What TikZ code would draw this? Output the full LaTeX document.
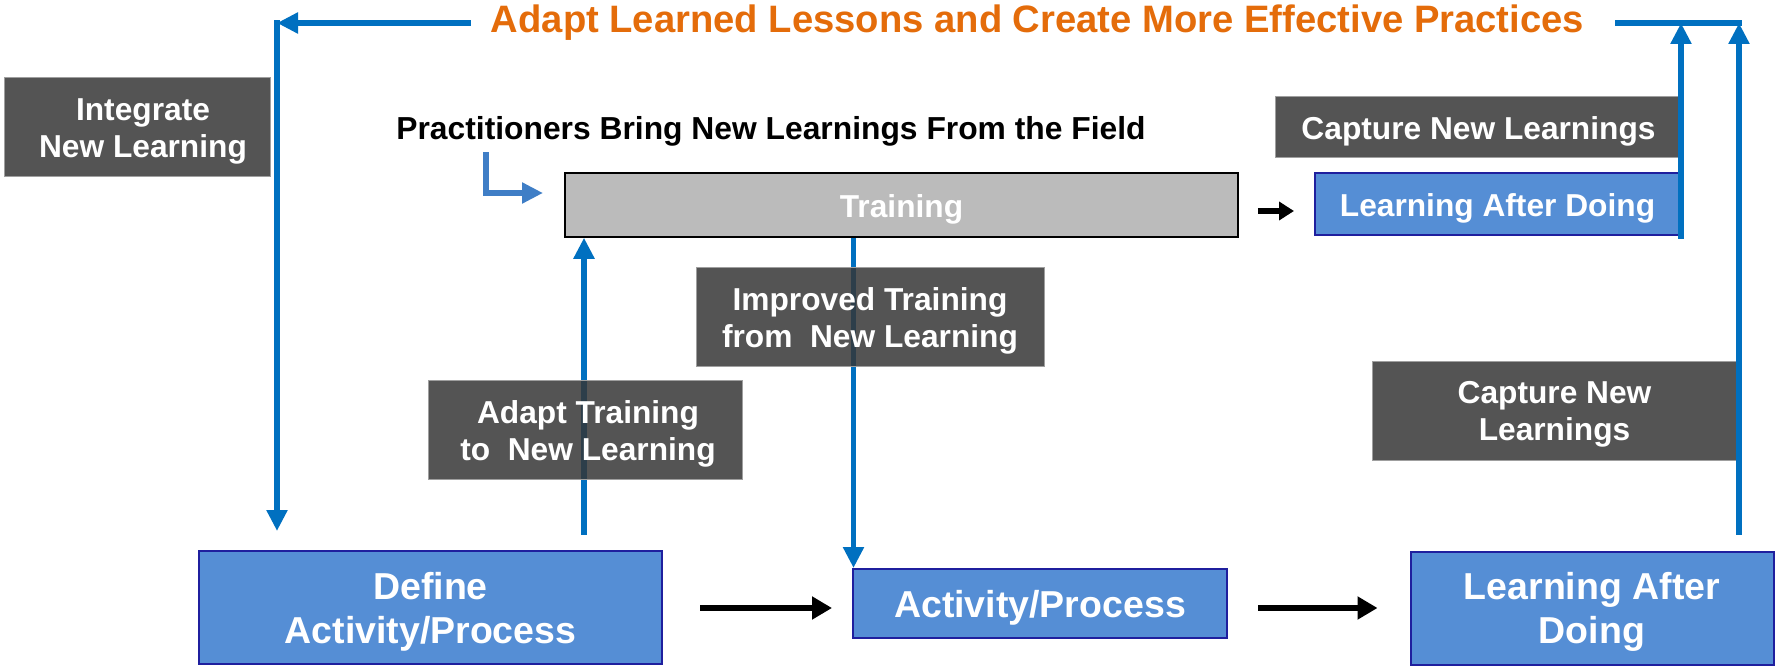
\documentclass[tikz,border=0pt]{standalone}
\usepackage{fontspec}
\setmainfont{Liberation Sans}
\usetikzlibrary{arrows.meta,backgrounds}
\definecolor{lblue}{HTML}{0070C0}
\definecolor{eblue}{HTML}{3F7EC6}
\definecolor{bfill}{HTML}{558ED5}
\definecolor{bdraw}{HTML}{1F1F9E}
\definecolor{dfill}{HTML}{363636}
\definecolor{ttl}{HTML}{E46C0A}
\definecolor{tfill}{HTML}{BBBBBB}
\begin{document}
\begin{tikzpicture}[x=1pt,y=-1pt,
  basebox/.style={rectangle, inner sep=0pt},
  dbox/.style={basebox, fill=dfill, fill opacity=0.85,
    draw=gray!75, draw opacity=1, line width=1pt},
  bbox/.style={basebox, fill=bfill, draw=bdraw, line width=2pt},
  tbox/.style={basebox, fill=tfill, draw=black, line width=1.5pt},
  smalltext/.style={align=center, text=white, inner sep=0pt, yshift=-4pt,
    font=\bfseries\fontsize{31.7}{37}\selectfont},
  bigtext/.style={smalltext, font=\bfseries\fontsize{37.5}{44}\selectfont},
  bline/.style={draw=lblue, line width=5.5pt, line cap=rect,
    -{Triangle[length=21pt,width=20pt]}},
  eline/.style={draw=eblue, line width=5.5pt, line cap=rect,
    -{Triangle[length=21pt,width=20pt]}},
  plainline/.style={draw=lblue, line width=5.5pt, line cap=rect},
  barrow/.style={draw=black, line width=6.5pt, -{Triangle[length=20pt,width=22pt]}},
  sbarrow/.style={draw=black, line width=6pt, -{Triangle[length=15pt,width=18pt]}}
]
\useasboundingbox (0,0) rectangle (1775,671);

% texts
\node[text=ttl, font=\bfseries\fontsize{38.2}{40}\selectfont, anchor=base, inner sep=0pt]
  (title) at (1037.5,33) {Adapt Learned Lessons and Create More Effective Practices};
\node[text=black, font=\bfseries\fontsize{31.8}{36}\selectfont, anchor=base, inner sep=0pt]
  (pract) at (771,140) {Practitioners Bring New Learnings From the Field};

% boxes
\node[dbox, minimum width=266pt, minimum height=99pt,
  label={[smalltext, xshift=6pt]center:{Integrate\\New Learning}}] (integ) at (137,127.5) {};
\node[tbox, minimum width=673pt, minimum height=64pt,
  label={[smalltext]center:Training}] (train) at (901.5,205) {};
\node[dbox, minimum width=407pt, minimum height=61pt,
  label={[smalltext]center:Capture New Learnings}] (capt) at (1478.5,127.5) {};
\node[bbox, minimum width=365pt, minimum height=62pt,
  label={[smalltext]center:Learning After Doing}] (lads) at (1497.5,204) {};
\node[dbox, minimum width=348pt, minimum height=99pt,
  label={[smalltext]center:{Improved Training\\from\ \ New Learning}}] (impr) at (870,316.5) {};
\node[dbox, minimum width=314pt, minimum height=99pt,
  label={[smalltext, xshift=3pt]center:{Adapt Training\\to\ \ New Learning}}] (adapt) at (585,429.5) {};
\node[dbox, minimum width=365pt, minimum height=99pt,
  label={[smalltext]center:{Capture New\\Learnings}}] (captl) at (1554.5,410.5) {};
\node[bbox, minimum width=463pt, minimum height=113pt,
  label={[bigtext]center:{Define\\Activity/Process}}] (define) at (430.5,607.5) {};
\node[bbox, minimum width=374pt, minimum height=69pt,
  label={[bigtext]center:Activity/Process}] (act) at (1040,603.5) {};
\node[bbox, minimum width=363pt, minimum height=113pt,
  label={[bigtext]center:{Learning After\\Doing}}] (ladb) at (1592,608) {};

% coordinates for free ends
\coordinate (tlS) at (468,23);
\coordinate (tlC) at (277,23);
\coordinate (trS) at (1618,23);
\coordinate (trC) at (1739,23);
\coordinate (upB) at (584,532);
\coordinate (dnT) at (853.5,230);
\coordinate (rB) at (1739,532);
\coordinate (elS) at (486,155);
\coordinate (elE) at (543,193);

% connectors behind the dark boxes
\begin{scope}[on background layer]
  \draw[bline] (upB) -- (upB |- train.south);
  \draw[bline] (dnT) -- (dnT |- act.north);
\end{scope}

% feedback loop
\draw[bline] (tlS) -- (tlC);
\draw[bline, shorten >=19pt] (tlC) -- (tlC |- define.north);
\draw[plainline] (trS) -- (trC);
\draw[bline] (lads.south east) -- (lads.south east |- trC);
\draw[bline] (rB) -- (rB |- trC);

% practitioners elbow
\draw[eline] (elS) |- (elE);

% black flow arrows
\draw[barrow] ([xshift=37pt,yshift=-0.5pt]define.east) -- ([xshift=-20pt,yshift=-4.5pt]act.west);
\draw[barrow] ([xshift=30pt,yshift=-4.5pt]act.east) -- ([xshift=-32pt]ladb.west);
\draw[sbarrow] ([xshift=19pt,yshift=-6pt]train.east) -- ([xshift=-20pt,yshift=-7pt]lads.west);
\end{tikzpicture}
\end{document}
